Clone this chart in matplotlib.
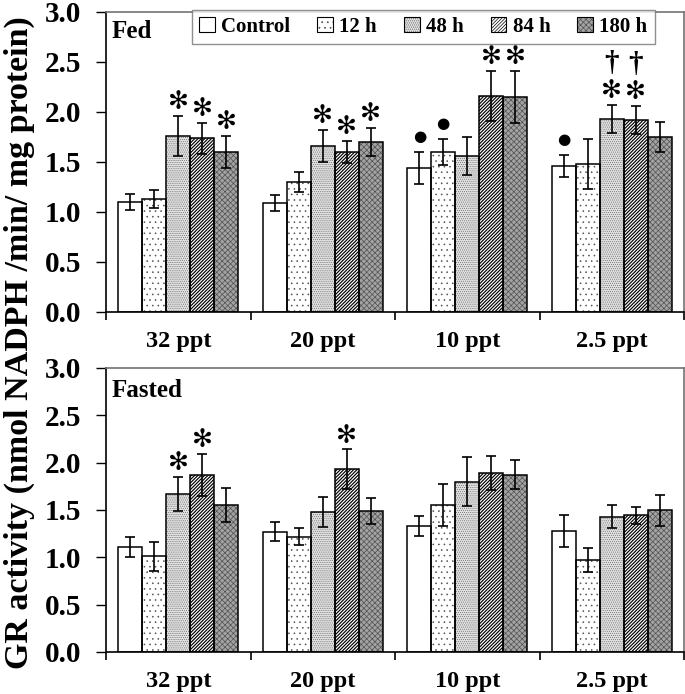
import numpy as np
import matplotlib
matplotlib.use('Agg')
import matplotlib.pyplot as plt
from matplotlib.patches import Patch

plt.rcParams['font.family'] = ['Liberation Serif', 'DejaVu Serif']
plt.rcParams['font.weight'] = 'bold'
plt.rcParams['hatch.linewidth'] = 0.5

categories = ['32 ppt', '20 ppt', '10 ppt', '2.5 ppt']
groups = ['Control', '12 h', '48 h', '84 h', '180 h']
y_ticks = [0.0, 0.5, 1.0, 1.5, 2.0, 2.5, 3.0]

# Fed
fed_control = [1.10, 1.09, 1.44, 1.46]
fed_12h = [1.13, 1.30, 1.60, 1.48]
fed_48h = [1.76, 1.66, 1.56, 1.93]
fed_84h = [1.74, 1.60, 2.16, 1.92]
fed_180h = [1.60, 1.70, 2.15, 1.75]
fed_control_err = [0.08, 0.08, 0.16, 0.11]
fed_12h_err = [0.09, 0.10, 0.13, 0.25]
fed_48h_err = [0.20, 0.16, 0.19, 0.14]
fed_84h_err = [0.155, 0.11, 0.25, 0.14]
fed_180h_err = [0.16, 0.14, 0.26, 0.15]

# Fasted
fasted_control = [1.11, 1.27, 1.33, 1.28]
fasted_12h = [1.01, 1.22, 1.55, 0.97]
fasted_48h = [1.67, 1.48, 1.80, 1.43]
fasted_84h = [1.87, 1.93, 1.89, 1.445]
fasted_180h = [1.55, 1.49, 1.875, 1.495]
fasted_control_err = [0.11, 0.10, 0.105, 0.17]
fasted_12h_err = [0.15, 0.085, 0.22, 0.13]
fasted_48h_err = [0.18, 0.155, 0.26, 0.12]
fasted_84h_err = [0.22, 0.21, 0.18, 0.09]
fasted_180h_err = [0.18, 0.14, 0.15, 0.16]

# significance marks: (category index, group index)
fed_stars = [(0, 2), (0, 3), (0, 4), (1, 2), (1, 3), (1, 4), (2, 3), (2, 4), (3, 2), (3, 3)]
fed_dots = [(2, 0), (2, 1), (3, 0)]
fed_daggers = [(3, 2), (3, 3)]
fasted_stars = [(0, 2), (0, 3), (1, 3)]

# (facecolor, hatch, hatch colour, hatch linewidth)
styles = [
    ('white', None, 'black', 0.5),
    ('white', '...', '0.3', 0.4),
    ('0.88', '........', '0.4', 0.4),
    ('white', '//////////', 'black', 0.85),
    ('0.64', 'xxxxxx', '0.32', 0.5),
]


def make_patch_kwargs(g):
    fc, hatch, hc, hlw = styles[g]
    return dict(facecolor=fc, hatch=hatch, edgecolor=hc, linewidth=0)


fig = plt.figure(figsize=(6.85, 6.94), dpi=100)
W, H = 685, 694
ax1 = fig.add_axes([106 / W, (H - 312) / H, 578 / W, 300 / H])
ax2 = fig.add_axes([106 / W, (H - 652) / H, 578 / W, 284 / H])

bw = 0.166
x = np.arange(1, len(categories) + 1)


def hatched_bar(ax, xs, m, g):
    hlw = styles[g][3]
    with plt.rc_context({'hatch.linewidth': hlw}):
        bars = ax.bar(xs, m, width=bw, zorder=2, **make_patch_kwargs(g))
    for b in bars:
        if hasattr(b, 'set_hatch_linewidth'):
            b.set_hatch_linewidth(hlw)
    ax.bar(xs, m, width=bw, fill=False, edgecolor='black', linewidth=1.1, zorder=2.5)


def draw(ax, means, errs, stars, dots, daggers, title, ty):
    tops = []
    for g, (m, e) in enumerate(zip(means, errs)):
        xs = x + (g - 2) * bw
        hatched_bar(ax, xs, m, g)
        ax.errorbar(xs, m, yerr=e, fmt='none', ecolor='black', elinewidth=1.2,
                    capsize=3.5, capthick=1.2, zorder=3)
        tops.append([mm + ee for mm, ee in zip(m, e)])
    for (c, g) in stars:
        ax.annotate('✻', (x[c] + (g - 2) * bw, tops[g][c]), xytext=(0, 10),
                    textcoords='offset points', ha='center', va='center',
                    fontsize=18, family='DejaVu Sans', zorder=4)
    for (c, g) in dots:
        ax.annotate('●', (x[c] + (g - 2) * bw, tops[g][c]), xytext=(0, 11),
                    textcoords='offset points', ha='center', va='center',
                    fontsize=11, family='DejaVu Sans', zorder=4)
    for (c, g) in daggers:
        ax.annotate('†', (x[c] + (g - 2) * bw, tops[g][c]), xytext=(0, 30),
                    textcoords='offset points', ha='center', va='center',
                    fontsize=21, fontweight='bold', zorder=4)
    ax.set_xlim(0.5, 4.5)
    ax.set_ylim(0, 3.0)
    ax.set_yticks(y_ticks)
    ax.set_yticklabels([f'{v:.1f}' for v in y_ticks], fontsize=21)
    ax.set_xticks(np.arange(0.5, 4.6, 1.0))
    ax.set_xticklabels([])
    ax.set_xticks(x, minor=True)
    ax.set_xticklabels(categories, minor=True, fontsize=17.5)
    ax.tick_params(axis='x', which='minor', length=0, pad=14)
    ax.tick_params(axis='x', which='major', length=6, width=1.2, direction='out')
    ax.tick_params(axis='y', length=7, width=1.0, direction='out', pad=11)
    for s in ['left', 'bottom']:
        ax.spines[s].set_linewidth(1.2)
        ax.spines[s].set_color('black')
    for s in ['top', 'right']:
        ax.spines[s].set_linewidth(1.2)
        ax.spines[s].set_color('0.45')
    ax.text(0.01, ty, title, transform=ax.transAxes, ha='left', va='top',
            fontsize=18, fontweight='bold')


draw(ax1,
     [fed_control, fed_12h, fed_48h, fed_84h, fed_180h],
     [fed_control_err, fed_12h_err, fed_48h_err, fed_84h_err, fed_180h_err],
     fed_stars, fed_dots, fed_daggers, 'Fed', 0.975)
draw(ax2,
     [fasted_control, fasted_12h, fasted_48h, fasted_84h, fasted_180h],
     [fasted_control_err, fasted_12h_err, fasted_48h_err, fasted_84h_err, fasted_180h_err],
     fasted_stars, [], [], 'Fasted', 0.96)

handles = []
for g in range(5):
    hlw = styles[g][3]
    with plt.rc_context({'hatch.linewidth': hlw}):
        hp = Patch(**make_patch_kwargs(g))
    if hasattr(hp, 'set_hatch_linewidth'):
        hp.set_hatch_linewidth(hlw)
    op = Patch(fill=False, edgecolor='black', linewidth=0.8)
    handles.append((hp, op))

leg = ax1.legend(handles=handles, labels=groups, loc='upper center',
                 bbox_to_anchor=(0.549, 1.008),
                 ncol=5, fontsize=15, frameon=True, fancybox=False,
                 edgecolor='0.45', handlelength=0.75, handleheight=0.75,
                 handletextpad=0.3, columnspacing=1.3, borderpad=0.35,
                 borderaxespad=0)
leg.get_frame().set_linewidth(1.0)
leg.set_zorder(5)

fig.text(0.029, 0.507, 'GR activity (nmol NADPH /min/ mg protein)', rotation=90,
         ha='center', va='center', fontsize=24.5, fontweight='bold')

fig.savefig('out.png', dpi=100)
